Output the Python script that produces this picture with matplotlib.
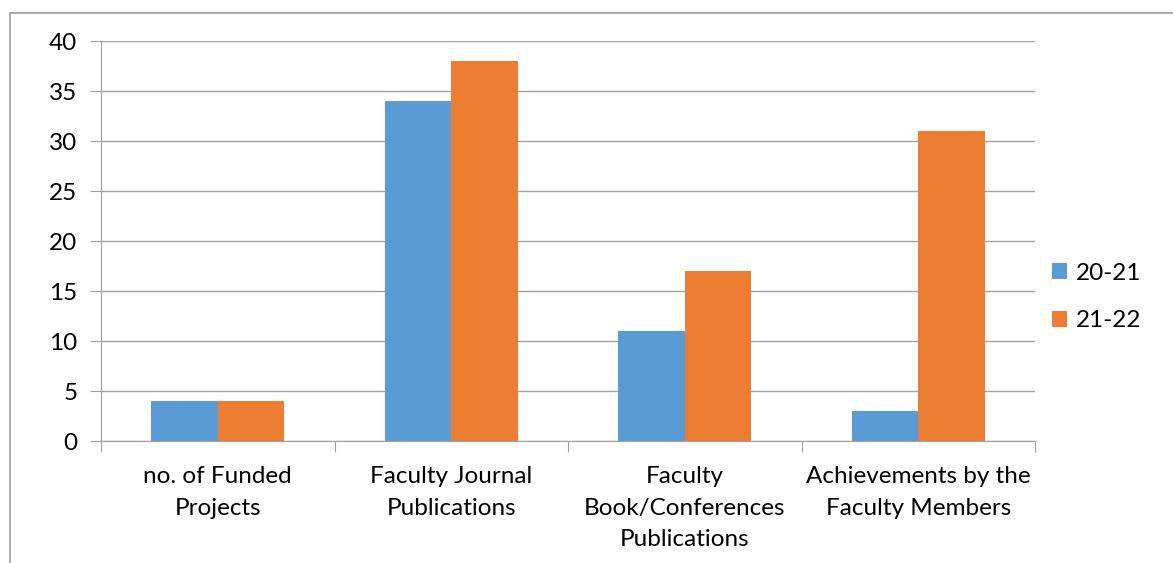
import numpy as np
import matplotlib.pyplot as plt
from matplotlib.patches import Rectangle

categories = ["no. of Funded\nProjects", "Faculty Journal\nPublications",
              "Faculty\nBook/Conferences\nPublications",
              "Achievements by the\nFaculty Members"]
series_names = ["20-21", "21-22"]
vals_2021 = [4, 34, 11, 3]
vals_2122 = [4, 38, 17, 31]
yticks = [0, 5, 10, 15, 20, 25, 30, 35, 40]

blue = "#5B9BD5"
orange = "#ED7D31"
grey = "#A0A0A0"

plt.rcParams['font.family'] = ['Lato', 'DejaVu Sans']
fs = 17.5

W, H = 1173, 563
fig = plt.figure(figsize=(W / 100, H / 100), dpi=100)

# outer chart frame (runs off right/bottom edge)
fig.patches.append(Rectangle((10 / W, -0.1), 1.2, 1.1 - 13 / H,
                             transform=fig.transFigure, fill=False,
                             edgecolor="#A0A0A0", linewidth=1.2))

ax = fig.add_axes([101 / W, 1 - 441 / H, 934 / W, 400 / H])

x = np.arange(len(categories))
bw = 1 / 3.5
ax.bar(x - bw / 2, vals_2021, bw, color=blue, label=series_names[0])
ax.bar(x + bw / 2, vals_2122, bw, color=orange, label=series_names[1])

ax.set_xlim(-0.5, len(categories) - 0.5)
ax.set_ylim(0, 40)
ax.set_yticks(yticks)
ax.yaxis.grid(True, color=grey, linewidth=1)
ax.set_axisbelow(True)
for s in ["top", "right"]:
    ax.spines[s].set_visible(False)
ax.spines["left"].set_color(grey)
ax.spines["bottom"].set_color(grey)
ax.tick_params(axis="y", length=8, color=grey, labelsize=fs, pad=9)

# category boundary ticks below axis
ax.set_xticks(np.arange(-0.5, len(categories), 1))
ax.set_xticklabels([])
ax.tick_params(axis="x", length=8, color=grey)
for i, c in enumerate(categories):
    ax.text(i, -2.5, c, ha="center", va="top", fontsize=fs,
            linespacing=1.62, transform=ax.transData)

ax.legend(loc="center left", bbox_to_anchor=(1.018, 0.36), frameon=False,
          fontsize=fs, handlelength=0.62, handleheight=0.62,
          handletextpad=0.35, labelspacing=1.1,
          borderpad=0, borderaxespad=0)

fig.savefig("out.png", dpi=100)
